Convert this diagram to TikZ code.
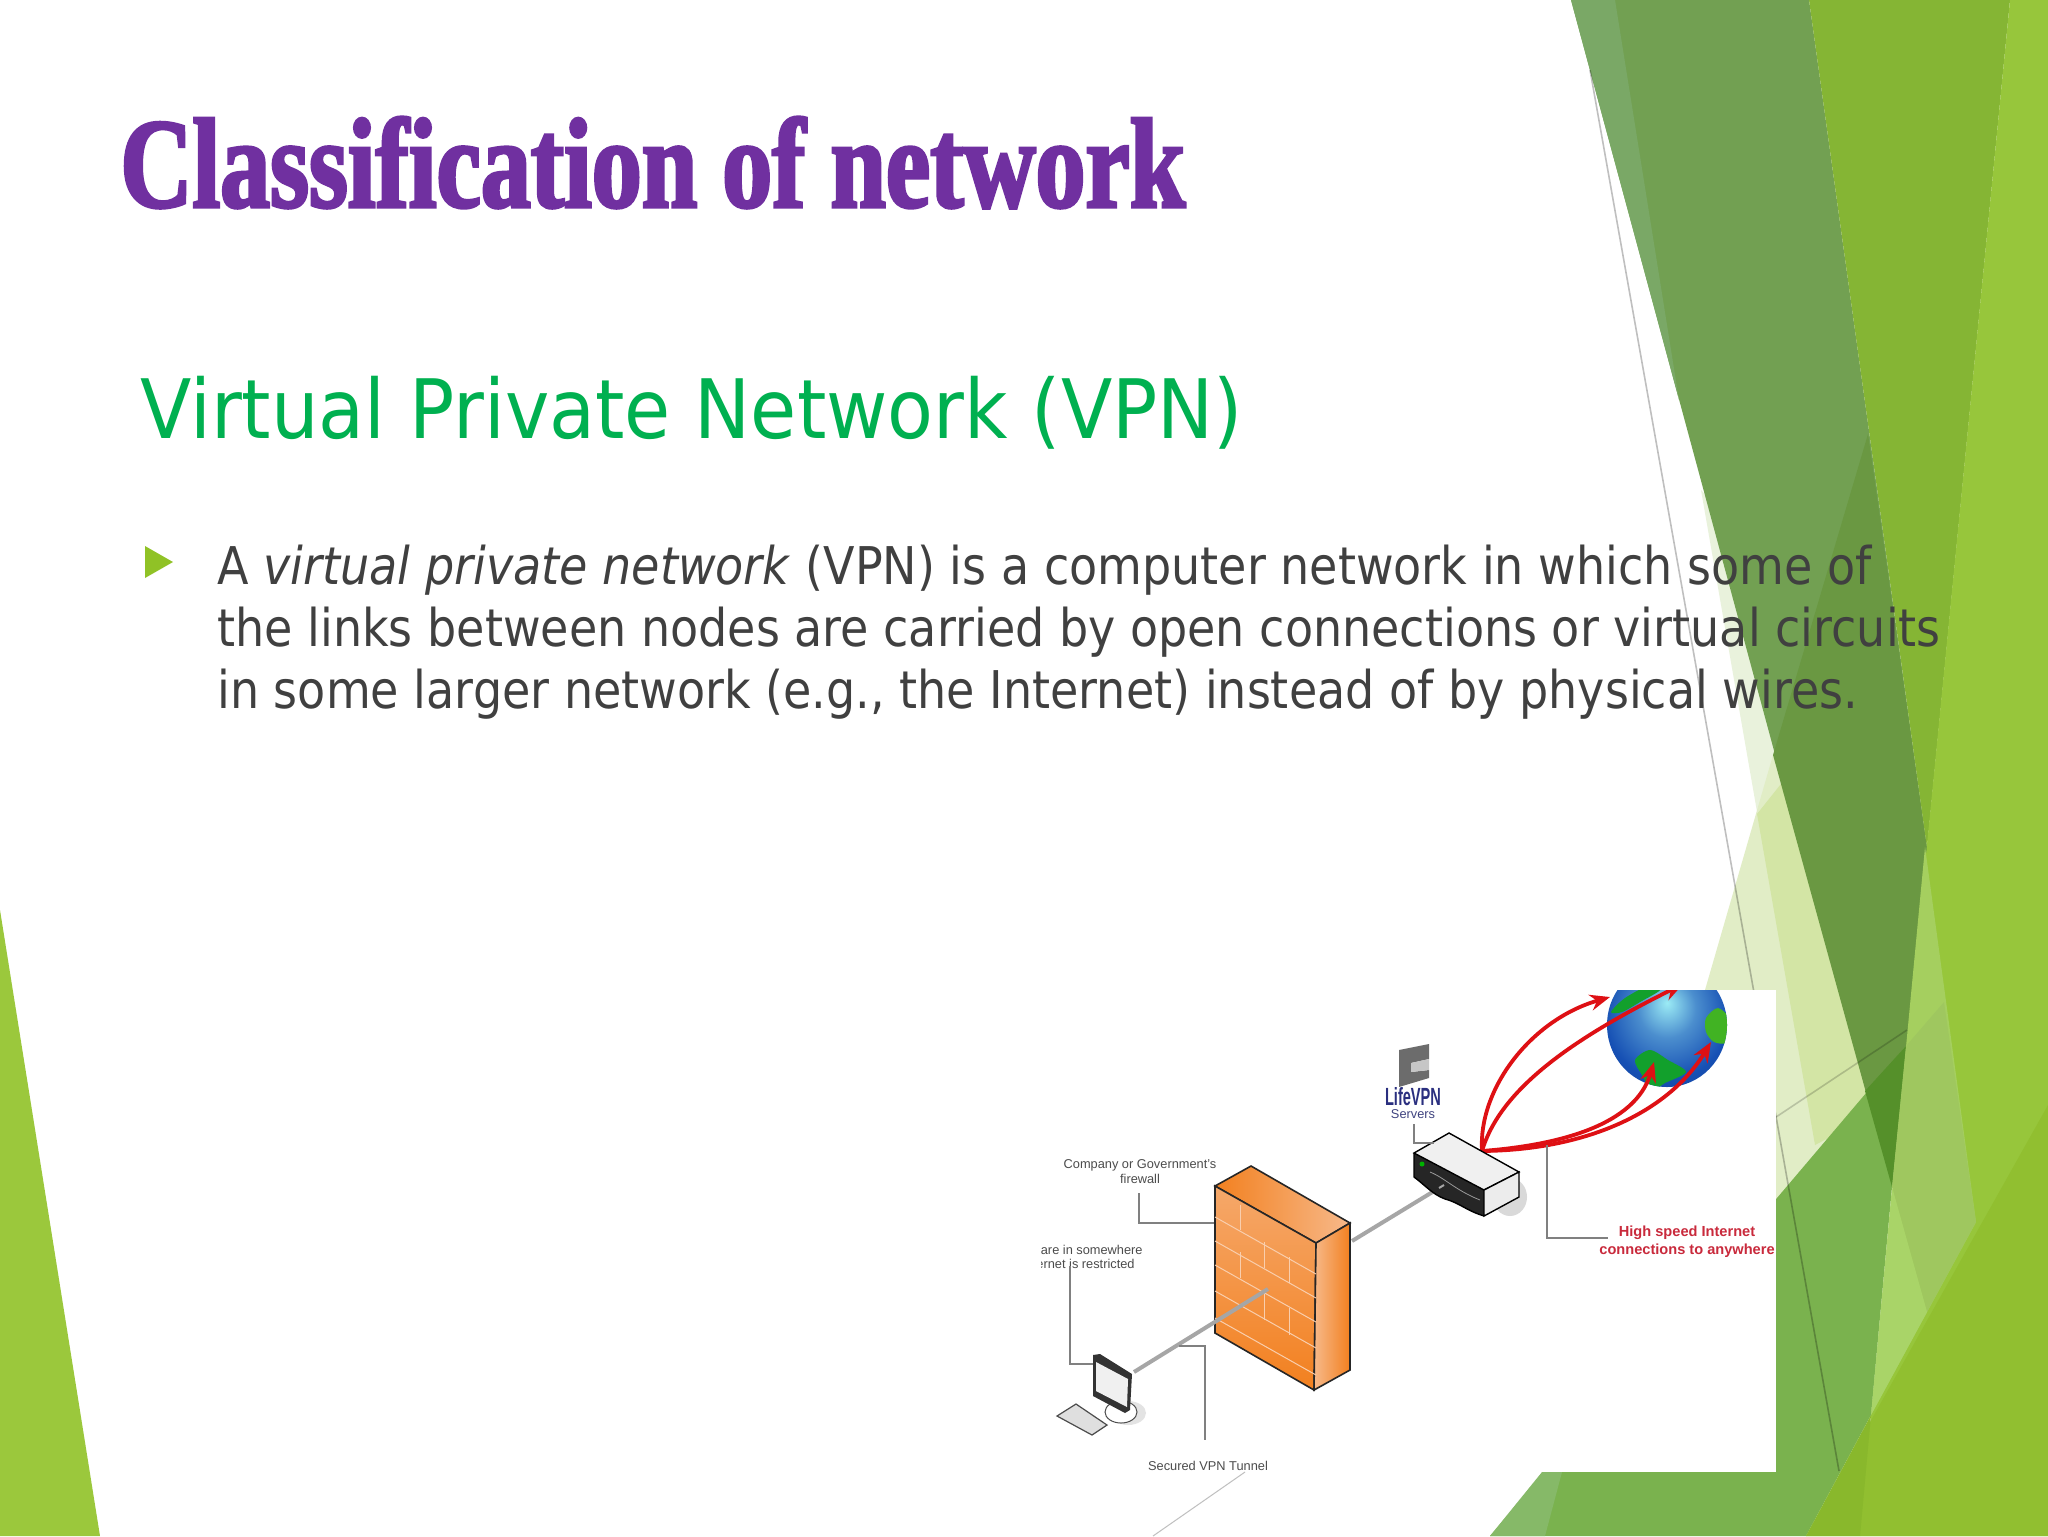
\documentclass[tikz,border=0pt]{standalone}
\usepackage{fontspec}
\usetikzlibrary{arrows.meta}
\newfontfamily\titlefont[FakeStretch=0.78,FakeBold=2.4]{Liberation Serif Bold}
\newfontfamily\subfont[FakeStretch=0.915]{DejaVu Sans}
\newfontfamily\bodyfont[FakeStretch=0.885]{DejaVu Sans}
\setmainfont{Liberation Sans}
\definecolor{titlepurple}{HTML}{7030A0}
\definecolor{subgreen}{HTML}{00B050}
\definecolor{bodygray}{HTML}{404040}
\definecolor{bulletgreen}{HTML}{90C226}
\definecolor{vpnred}{HTML}{C92A3C}
\definecolor{arcred}{HTML}{DE1014}
\definecolor{wireblue}{HTML}{2A2F7F}
\definecolor{globedark}{HTML}{12307C}
\definecolor{globeblue}{HTML}{1650B4}
\definecolor{globecyan}{HTML}{9BEBF5}
\definecolor{landgreen}{HTML}{12A02C}
\definecolor{firedeep}{HTML}{F2801F}
\definecolor{firepale}{HTML}{F7B98A}
\pgfdeclareradialshading{globeshade}{\pgfpoint{0bp}{9bp}}{color(0bp)=(globecyan); color(12bp)=(globeblue!60!globecyan); color(26bp)=(globeblue); color(50bp)=(globedark)}
\tikzset{>={Stealth[length=10pt,width=8pt]}}
\tikzset{
    facet/.style={draw=none},
    thinline/.style={black, opacity=0.25, line width=0.8pt},
    callout/.style={draw=gray, line width=0.8pt},
    tunnel/.style={draw=gray!70, line width=2pt},
    arc/.style={arcred, line width=1.9pt, ->},
    caption/.style={inner sep=0pt, text=black!70, font=\fontsize{6.4}{7.5}\selectfont, align=center},
    bodyline/.style={anchor=base west, inner sep=0pt, text=bodygray, font=\bodyfont\fontsize{26}{31}\selectfont},
    brick/.style={draw=firepale!70!white, line width=0.5pt},
    wallface/.style={draw=black!85, line width=0.8pt}
}
\begin{document}
\begin{tikzpicture}[x=0.5pt, y=-0.5pt]
    \useasboundingbox (0,0) rectangle (2048,1536);
    \fill[white] (0,0) rectangle (2048,1536);
    % left corner
    \fill[facet, fill=bulletgreen!90!white] (0,910) -- (100,1536) -- (0,1536) -- cycle;
    % pale slivers behind the dark band
    \fill[facet, fill={rgb,255:red,233;green,242;blue,220}] (1701,490) -- (1815,1145) -- (1900,1100) -- (1800,600) -- cycle;
    \fill[facet, fill={rgb,255:red,225;green,237;blue,198}] (1773,755) -- (1650,1180) -- (1780,1280) -- (1900,1100) -- (1860,900) -- cycle;
    \fill[facet, fill={rgb,255:red,211;green,229;blue,165}] (1757,814) -- (1815,1145) -- (1900,1100) -- (1800,760) -- cycle;
    % dark band
    \fill[facet, fill={rgb,255:red,114;green,160;blue,82}] (1571,0) -- (1809,0) -- (1927,848) -- (1892,1187) -- cycle;
    \fill[facet, fill={rgb,255:red,122;green,168;blue,102}] (1571,0) -- (1615,0) -- (1679,400) -- cycle;
    \fill[facet, fill={rgb,255:red,106;green,152;blue,66}] (1773,755) -- (1868,434) -- (1927,848) -- (1892,1187) -- cycle;
    % bright bands
    \fill[facet, fill={rgb,255:red,133;green,181;blue,52}] (1809,0) -- (2010,0) -- (1927,848) -- cycle;
    \fill[facet, fill={rgb,255:red,151;green,198;blue,59}] (2010,0) -- (2048,0) -- (2048,1536) -- (1860,1536) -- (1871,1415) -- cycle;
    \fill[facet, fill={rgb,255:red,165;green,207;blue,95}] (1925,847) -- (1976,1222) -- (1871,1415) -- cycle;
    % big green triangle
    \fill[facet, fill={rgb,255:red,122;green,178;blue,78}] (1490,1536) -- (1906,1046) -- (1892,1187) -- (1871,1415) -- (1806,1536) -- cycle;
    \fill[facet, fill={rgb,255:red,134;green,185;blue,104}] (1490,1536) -- (1542,1472) -- (1562,1472) -- (1545,1536) -- cycle;
    \fill[facet, fill={rgb,255:red,85;green,144;blue,42}] (1865,1091) -- (1906,1046) -- (1892,1187) -- cycle;
    \fill[facet, fill={rgb,255:red,159;green,199;blue,95}] (1906,1046) -- (1944,1002) -- (1976,1222) -- (1927,1312) -- (1892,1187) -- cycle;
    \fill[facet, fill={rgb,255:red,169;green,212;blue,104}] (1892,1187) -- (1927,1312) -- (1871,1415) -- cycle;
    % bottom right
    \fill[facet, fill={rgb,255:red,145;green,191;blue,48}] (1806,1536) -- (2048,1105) -- (2048,1536) -- cycle;
    \fill[facet, fill={rgb,255:red,137;green,184;blue,44}] (1806,1536) -- (1871,1415) -- (1860,1536) -- cycle;
    % thin lines
    \coordinate (lineA) at (1590,70);
    \coordinate (lineB) at (1839,1471);
    \coordinate (lineC) at (1776,1117);
    \coordinate (lineD) at (1907,1030);
    \draw[thinline] (lineA) -- (lineB);
    \draw[thinline, opacity=0.18] (lineC) -- (lineD);

    % slide text
    \node[anchor=base west, inner sep=0pt, text=titlepurple] (title) at (120,207) {\titlefont\fontsize{64}{64}\selectfont Classification of network};
    \node[anchor=base west, inner sep=0pt, text=subgreen] (subtitle) at (140,438) {\subfont\fontsize{41}{41}\selectfont Virtual Private Network (VPN)};
    \fill[bulletgreen] (145,546) -- (173,562) -- (145,578) -- cycle;
    \node[bodyline] (bodyA) at (217,584) {A \textit{virtual private network} (VPN) is a computer network in which some of};
    \node[bodyline] (bodyB) at (217,646) {the links between nodes are carried by open connections or virtual circuits};
    \node[bodyline] (bodyC) at (217,708) {in some larger network (e.g., the Internet) instead of by physical wires.};

    % picture panel
    \fill[white] (1041,990) rectangle (1776,1472);
    \coordinate (freeA) at (1245,1472);
    \coordinate (freeB) at (1153,1536);
    \draw[gray!50, line width=0.5pt] (freeA) -- (freeB);
    \begin{scope}
    \clip (1041,990) rectangle (1776,1472);
    % globe
    \shade[shading=globeshade] (1667,1025) ellipse (60 and 62);
    \begin{scope}
        \clip (1667,1025) ellipse (60 and 62);
        \fill[landgreen] plot[smooth cycle] coordinates {(1611,1012) (1625,998) (1650,985) (1660,990) (1640,1002) (1622,1012)};
        \fill[landgreen!80!yellow] plot[smooth cycle] coordinates {(1706,1018) (1718,1008) (1730,1020) (1727,1042) (1714,1042) (1706,1032)};
        \fill[landgreen] plot[smooth cycle] coordinates {(1635,1060) (1650,1050) (1668,1060) (1686,1072) (1665,1083) (1652,1090) (1642,1075)};
    \end{scope}
    % arcs out of the server
    \coordinate (arcstart) at (1482,1151);
    \draw[arc] (arcstart) .. controls (1478,1090) and (1530,1020) .. (1610,997);
    \draw[arc] (arcstart) .. controls (1500,1090) and (1570,1040) .. (1683,984);
    \draw[arc] (arcstart) .. controls (1560,1145) and (1635,1125) .. (1654,1062);
    \draw[arc] (arcstart) .. controls (1590,1150) and (1670,1110) .. (1711,1042);

    % vpn tunnel
    \coordinate (pcend) at (1134,1372);
    \coordinate (wallend) at (1268,1289);
    \coordinate (wallout) at (1352,1241);
    \coordinate (serverin) at (1444,1185);
    \draw[tunnel] (wallout) -- (serverin);

    % firewall
    \coordinate (F1) at (1251,1166);
    \coordinate (F2) at (1215,1186);
    \coordinate (F3) at (1215,1333);
    \coordinate (F4) at (1314,1390);
    \coordinate (F5) at (1350,1370);
    \coordinate (F6) at (1350,1223);
    \coordinate (F7) at (1316,1243);
    \shade[wallface, left color=firedeep, right color=firepale] (F1) -- (F6) -- (F7) -- (F2) -- cycle;
    \shade[wallface, shading angle=20, top color=firepale!70!firedeep, bottom color=firedeep] (F2) -- (F7) -- (F4) -- (F3) -- cycle;
    \shade[wallface, left color=firepale, right color=firedeep] (F7) -- (F6) -- (F5) -- (F4) -- cycle;
    \foreach \dy in {31,55,79,105,132} {
        \draw[brick] (1215,1186+\dy) -- (1316,1243+\dy);
    }
    \foreach \xa/\ya/\yb in {1240/1205/1230, 1264/1242/1268, 1289/1257/1283, 1240/1252/1278, 1264/1293/1320, 1289/1308/1335} {
        \draw[brick] (\xa,\ya) -- (\xa,\yb);
    }
    \draw[tunnel] (pcend) -- (wallend);

    % server
    \fill[gray!30] (1510,1197) ellipse (17 and 19);
    \fill[black!85] (1414,1153) -- (1484,1190) -- (1484,1216) .. controls (1465,1210) and (1460,1203) .. (1445,1199) .. controls (1432,1194) and (1425,1185) .. (1414,1177) -- cycle;
    \fill[white!94!black, draw=black, line width=0.7pt] (1449,1133) -- (1519,1172) -- (1484,1190) -- (1414,1153) -- cycle;
    \fill[white!85!gray, draw=black, line width=0.7pt] (1484,1190) -- (1519,1172) -- (1519,1197) -- (1484,1216) -- cycle;
    \draw[black, line width=0.7pt] (1414,1153) -- (1414,1177) .. controls (1425,1185) and (1432,1194) .. (1445,1199) .. controls (1460,1203) and (1465,1210) .. (1484,1216);
    \draw[white!60!black, line width=0.4pt] (1430,1172) .. controls (1445,1178) and (1455,1190) .. (1480,1200);
    \fill[green!70!black] (1422,1164) circle (2.5);
    \draw[tunnel, line width=1pt] (serverin) -- ++(-5,3);

    % monitor
    \fill[gray!22] (1128,1413) ellipse (18 and 12);
    \draw[black!70, fill=white, line width=0.5pt] (1121,1412) ellipse (16 and 11);
    \fill[black!80] (1093,1355) -- (1100,1354) -- (1132,1374) -- (1130,1410) -- (1125,1413) -- (1093,1396) -- cycle;
    \fill[gray!12] (1096,1362) -- (1128,1379) -- (1127,1407) -- (1096,1391) -- cycle;
    \fill[gray!25, draw=black!70, line width=0.6pt] (1057,1416) -- (1076,1404) -- (1107,1425) -- (1092,1435) -- cycle;

    % vpn logo
    \fill[gray!85!black] (1399,1050) -- (1429,1044) -- (1429,1059) -- (1411,1063) -- (1411,1072) -- (1429,1070) -- (1429,1078) -- (1399,1087) -- cycle;
    \fill[gray!45] (1411,1063) -- (1429,1059) -- (1429,1070) -- (1411,1072) -- cycle;
    \node[inner sep=0pt, text=wireblue] (lifevpn) at (1413,1097) {\resizebox{28pt}{9pt}{\bfseries LifeVPN}};
    \node[caption, text=wireblue!75!gray] (servers) at (1413,1114) {Servers};

    % labels
    \node[caption] (fwlabel) at (1140,1172) {Company or Government's\\firewall};
    \node[caption, anchor=east] (siteA) at (1143,1250) {are in somewhere};
    \node[caption, anchor=east] (siteB) at (1135,1264) {ernet is restricted};
    \node[caption] (vpnlabel) at (1208,1466) {Secured VPN Tunnel};
    \node[inner sep=0pt, text=vpnred, align=center, font=\bfseries\fontsize{7.3}{9}\selectfont] (speedlabel) at (1687,1242) {High speed Internet\\connections to anywhere};

    % callouts
    \coordinate (c1a) at (1139,1193);
    \coordinate (c1b) at (1139,1223);
    \coordinate (c1c) at (1214,1223);
    \draw[callout] (c1a) -- (c1b) -- (c1c);
    \coordinate (c2a) at (1070,1266);
    \coordinate (c2b) at (1070,1364);
    \coordinate (c2c) at (1093,1364);
    \draw[callout] (c2a) -- (c2b) -- (c2c);
    \coordinate (c3a) at (1179,1346);
    \coordinate (c3b) at (1205,1346);
    \coordinate (c3c) at (1205,1440);
    \draw[callout] (c3a) -- (c3b) -- (c3c);
    \coordinate (c4a) at (1414,1124);
    \coordinate (c4b) at (1414,1143);
    \coordinate (c4c) at (1434,1143);
    \draw[callout] (c4a) -- (c4b) -- (c4c);
    \coordinate (c5a) at (1547,1145);
    \coordinate (c5b) at (1547,1238);
    \coordinate (c5c) at (1608,1238);
    \draw[callout] (c5a) -- (c5b) -- (c5c);
    \end{scope}
\end{tikzpicture}
\end{document}
